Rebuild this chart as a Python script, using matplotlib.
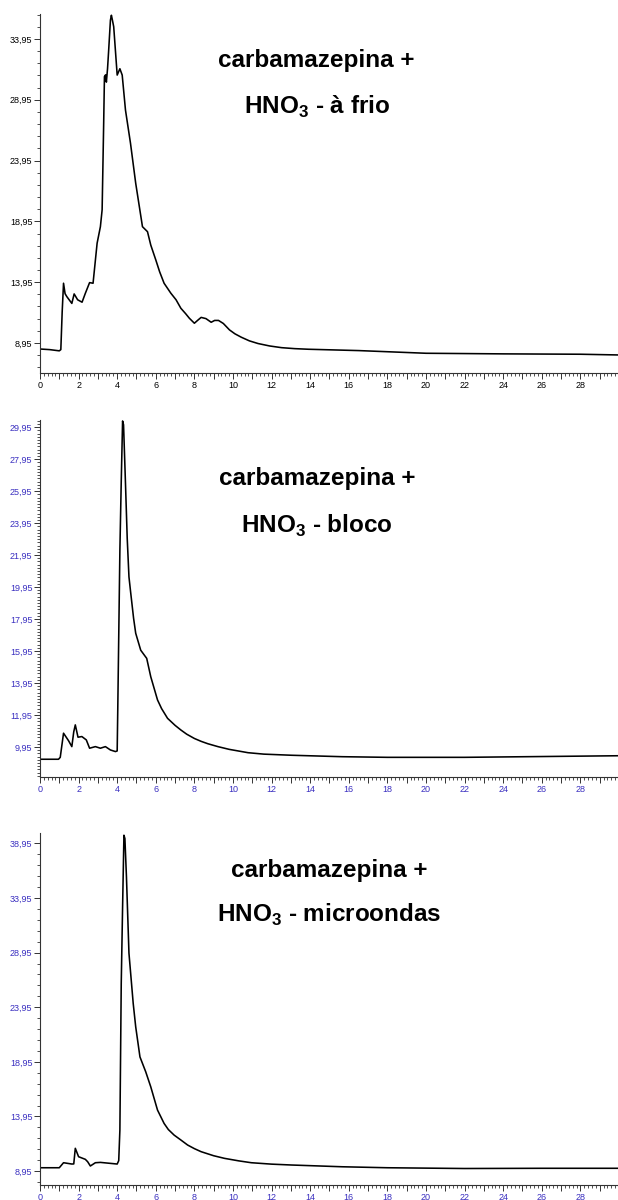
import matplotlib
matplotlib.use("Agg")
import matplotlib.pyplot as plt
from matplotlib.ticker import MultipleLocator, FixedLocator, FuncFormatter
import numpy as np

plt.rcParams['font.family'] = ['Liberation Sans', 'DejaVu Sans']
plt.rcParams['mathtext.fontset'] = 'custom'
plt.rcParams['mathtext.bf'] = 'Liberation Sans:bold'
plt.rcParams['mathtext.rm'] = 'Liberation Sans:bold'

# chromatogram 1: carbamazepina + HNO3 - a frio
t_frio = [0.0, 0.5, 1.0, 1.08, 1.15, 1.22, 1.3, 1.39, 1.65, 1.77, 1.95, 2.18,
          2.35, 2.57, 2.75, 2.96, 3.13, 3.22, 3.3, 3.34, 3.4, 3.44, 3.5, 3.56,
          3.65, 3.70, 3.74, 3.82, 4.0, 4.14, 4.26, 4.43, 4.69, 4.96, 5.31,
          5.57, 5.74, 6.0, 6.2, 6.43, 6.78, 7.05, 7.30, 7.55, 7.74, 8.0, 8.2,
          8.35, 8.6, 8.87, 9.05, 9.25, 9.5, 9.82, 10.1, 10.43, 10.85, 11.3,
          11.9, 12.52, 13.2, 13.91, 16.52, 20.0, 24.0, 28.0, 30.0]
s_frio = [8.45, 8.4, 8.3, 8.4, 11.5, 13.86, 13.0, 12.76, 12.2, 12.98, 12.5,
          12.3, 13.03, 13.91, 13.86, 17.15, 18.51, 19.9, 27.0, 30.85, 31.0,
          30.4, 31.5, 33.05, 35.5, 35.9, 35.6, 34.96, 30.98, 31.5, 30.98, 28.1,
          25.37, 22.08, 18.51, 18.1, 17.0, 15.78, 14.8, 13.86, 13.04, 12.5,
          11.8, 11.35, 10.98, 10.57, 10.85, 11.05, 10.95, 10.65, 10.8, 10.8,
          10.55, 10.02, 9.7, 9.42, 9.12, 8.9, 8.7, 8.56, 8.48, 8.43, 8.32, 8.1,
          8.05, 8.02, 7.96]

# chromatogram 2: carbamazepina + HNO3 - bloco
t_bloco = [0.0, 0.96, 1.05, 1.22, 1.48, 1.65, 1.75, 1.83, 1.97, 2.17, 2.4,
           2.57, 2.87, 3.13, 3.39, 3.65, 3.91, 4.0, 4.03, 4.14, 4.21, 4.28,
           4.33, 4.43, 4.52, 4.61, 4.7, 4.85, 4.96, 5.22, 5.53, 5.74, 6.09,
           6.3, 6.61, 7.0, 7.30, 7.6, 8.0, 8.35, 8.7, 9.22, 9.8, 10.78, 11.6,
           13.04, 15.65, 18.0, 22.0, 26.0, 30.0]
s_bloco = [9.18, 9.18, 9.3, 10.81, 10.34, 9.97, 10.9, 11.33, 10.56, 10.6,
           10.39, 9.87, 9.97, 9.87, 9.97, 9.76, 9.66, 9.7, 12.26, 22.26, 26.53,
           30.34, 30.1, 26.43, 23.0, 20.59, 19.6, 18.0, 17.06, 16.0, 15.49,
           14.34, 12.89, 12.35, 11.74, 11.3, 11.01, 10.75, 10.48, 10.3, 10.15,
           9.97, 9.8, 9.59, 9.5, 9.43, 9.34, 9.3, 9.3, 9.35, 9.4]

# chromatogram 3: carbamazepina + HNO3 - microondas
t_micro = [0.0, 1.0, 1.22, 1.65, 1.75, 1.83, 2.0, 2.35, 2.47, 2.61, 2.87,
           3.13, 4.0, 4.08, 4.14, 4.21, 4.28, 4.35, 4.4, 4.48, 4.61, 4.83,
           4.96, 5.18, 5.48, 5.74, 6.09, 6.43, 6.65, 6.95, 7.3, 7.65, 8.0,
           8.35, 9.0, 9.56, 10.3, 10.95, 12.0, 13.04, 15.65, 18.0, 22.0, 26.0,
           30.0]
s_micro = [9.25, 9.25, 9.71, 9.59, 9.6, 11.03, 10.26, 10.02, 9.8, 9.41, 9.71,
           9.74, 9.59, 9.9, 12.7, 26.1, 33.1, 39.7, 39.4, 35.9, 28.9, 24.3,
           22.15, 19.4, 18.03, 16.66, 14.53, 13.31, 12.75, 12.24, 11.79, 11.33,
           11.0, 10.72, 10.35, 10.11, 9.88, 9.71, 9.58, 9.5, 9.34, 9.25, 9.18,
           9.2, 9.2]

BLUE = '#3a2fc0'

panels = [
    # (rect, t, s, ylim, major ticks, minor step, label color, subtitle, text pos)
    ([0.0647, 0.6892, 0.9353, 0.2991], t_frio, s_frio, (6.48, 36.0),
     np.arange(8.95, 36, 5), 1.0, 'black', 'à frio',
     (0.511, 0.950, 0.513, 0.911)),
    ([0.0647, 0.3525, 0.9353, 0.2975], t_bloco, s_bloco, (8.07, 30.4),
     np.arange(9.95, 30.5, 2), 0.2, BLUE, 'bloco',
     (0.514, 0.601, 0.513, 0.562)),
    ([0.0647, 0.0125, 0.9353, 0.2933], t_micro, s_micro, (7.67, 39.9),
     np.arange(8.95, 40, 5), 1.0, BLUE, 'microondas',
     (0.532, 0.275, 0.532, 0.238)),
]

fig = plt.figure(figsize=(6.18, 12), dpi=100)

for rect, t, s, ylim, majors, mstep, col, sub, tp in panels:
    ax = fig.add_axes(rect)
    ax.plot(t, s, color='black', lw=1.15)
    ax.set_xlim(0, 29.95)
    ax.set_ylim(*ylim)
    for side in ['top', 'right']:
        ax.spines[side].set_visible(False)
    for side in ['left', 'bottom']:
        ax.spines[side].set_color('#333333')
        ax.spines[side].set_linewidth(0.8)

    ax.xaxis.set_major_locator(MultipleLocator(1))
    ax.xaxis.set_minor_locator(MultipleLocator(0.2))
    ax.xaxis.set_major_formatter(
        FuncFormatter(lambda v, p: '%d' % round(v) if round(v) % 2 == 0 else ''))
    ax.yaxis.set_major_locator(FixedLocator(majors))
    minors = np.arange(majors[0] - 10 * mstep, ylim[1], mstep)
    ax.yaxis.set_minor_locator(FixedLocator(minors))
    ax.yaxis.set_major_formatter(FuncFormatter(lambda v, p: ('%.2f' % v).replace('.', ',')))

    ax.tick_params(axis='both', which='major', length=4, width=0.7,
                   labelsize=6.5, labelcolor=col, color='#333333', pad=1.5)
    ax.tick_params(axis='both', which='minor', length=2.2, width=0.6,
                   color='#333333')

    fig.text(tp[0], tp[1], 'carbamazepina +',
             ha='center', va='center', fontsize=17.5, fontweight='bold')
    fig.text(tp[2], tp[3], r'HNO$_\mathbf{3}$ - ' + sub,
             ha='center', va='center', fontsize=17.5, fontweight='bold')

fig.savefig('out.png', dpi=100)
